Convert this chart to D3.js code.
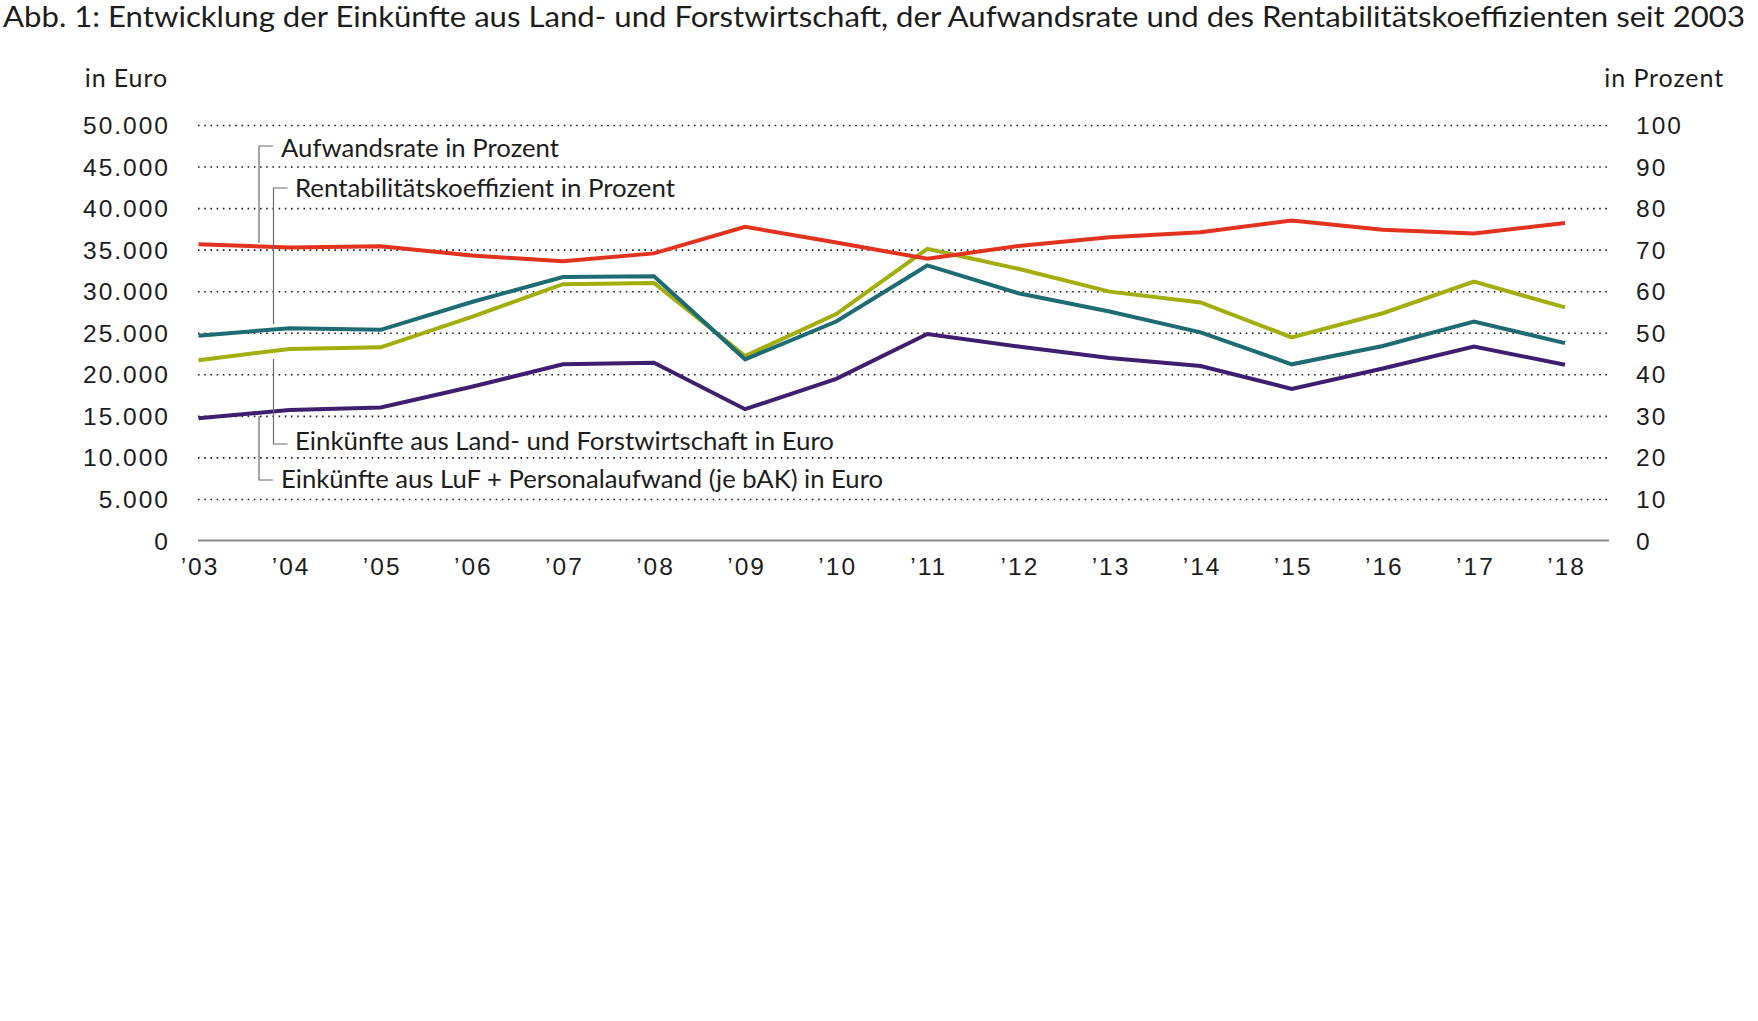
<!DOCTYPE html>
<html>
<head>
<meta charset="utf-8">
<script src="https://cdn.jsdelivr.net/npm/d3@7"></script>
<style>
  body { margin: 0; background: #fff; }
  svg { display: block; font-family: Lato, 'Open Sans', sans-serif; fill: #1d1d1b; }
  .grid line { stroke: #222; stroke-width: 1.6; stroke-dasharray: 1.6 4.6; }
  .axis text { font-size: 24.5px; fill: #1d1d1b; letter-spacing: 2px; }
  .series { fill: none; stroke-width: 4; stroke-linejoin: miter; }
  .leader { fill: none; stroke: #6b6b6b; stroke-width: 1.2; }
  .label { font-size: 25.5px; fill: #1d1d1b; }
  .unit { font-size: 25px; fill: #1d1d1b; letter-spacing: 0.9px; }
</style>
</head>
<body>
<div id="chart"></div>
<script>
const years = ['03', '04', '05', '06', '07', '08', '09', '10', '11', '12', '13', '14', '15', '16', '17', '18'];

// Prozent, rechte Achse
const aufwandsrate = [71.3, 70.5, 70.8, 68.6, 67.2, 69.1, 75.5, 71.7, 67.8, 70.9, 73.0, 74.2, 77.0, 74.8, 73.9, 76.4];
const rentabilitaet = [49.3, 51.1, 50.7, 57.4, 63.4, 63.6, 43.6, 52.7, 66.2, 59.5, 55.1, 50.1, 42.4, 46.8, 52.7, 47.5];

// Euro, linke Achse
const einkuenfteLuF = [21700, 23050, 23250, 26900, 30850, 31000, 22200, 27250, 35100, 32700, 29950, 28650, 24450, 27350, 31150, 28050];
const einkuenftePersonal = [14700, 15700, 16000, 18500, 21200, 21400, 15800, 19450, 24850, 23350, 21950, 21000, 18250, 20700, 23350, 21150];

const euroTicks = [0, 5000, 10000, 15000, 20000, 25000, 30000, 35000, 40000, 45000, 50000];
const pctTicks = [0, 10, 20, 30, 40, 50, 60, 70, 80, 90, 100];

const title = 'Abb. 1: Entwicklung der Einkünfte aus Land- und Forstwirtschaft, der Aufwandsrate und des Rentabilitätskoeffizienten seit 2003';

const width = 1758;
const height = 1021;

const plotLeft = 198;
const plotRight = 1609;

const svg = d3.select('#chart').append('svg')
    .attr('width', width)
    .attr('height', height);

svg.append('rect')
    .attr('width', width)
    .attr('height', height)
    .style('fill', '#fff');

const xScale = d3.scalePoint()
    .domain(years)
    .range([198.5, 1565]);

const yEuro = d3.scaleLinear()
    .domain([0, 50000])
    .range([540.5, 125]);

const yPct = d3.scaleLinear()
    .domain([0, 100])
    .range([540.5, 125]);

const de = d3.formatLocale({ decimal: ',', thousands: '.', grouping: [3], currency: ['', ' €'] });
const euroFormat = de.format(',');

// gridlines
svg.append('g').attr('class', 'grid')
    .attr('transform', `translate(${plotLeft},0)`)
    .call(d3.axisRight(yEuro)
        .tickValues(euroTicks.filter(d => d > 0))
        .tickSize(plotRight - plotLeft)
        .tickFormat(''))
    .call(g => g.select('.domain').remove());

// base line
svg.append('line')
    .attr('x1', plotLeft)
    .attr('x2', plotRight)
    .attr('y1', yEuro(0))
    .attr('y2', yEuro(0))
    .style('stroke', '#8a8a8a')
    .style('stroke-width', 2.2);

const leftAxis = svg.append('g').attr('class', 'axis')
    .attr('transform', 'translate(170,0)')
    .call(d3.axisLeft(yEuro)
        .tickValues(euroTicks)
        .tickSize(0)
        .tickPadding(0)
        .tickFormat(euroFormat));

const rightAxis = svg.append('g').attr('class', 'axis')
    .attr('transform', 'translate(1636,0)')
    .call(d3.axisRight(yPct)
        .tickValues(pctTicks)
        .tickSize(0)
        .tickPadding(0));

const xAxis = svg.append('g').attr('class', 'axis')
    .attr('transform', `translate(0,${yEuro(0)})`)
    .call(d3.axisBottom(xScale)
        .tickSize(0)
        .tickPadding(17)
        .tickFormat(d => '\u2019' + d));

svg.selectAll('.axis .domain').remove();
leftAxis.selectAll('text').attr('dy', '0.35em').style('font-family', 'inherit');
rightAxis.selectAll('text').attr('dy', '0.35em').style('font-family', 'inherit');
xAxis.selectAll('text').style('font-family', 'inherit').attr('dx', '1px');

// units
svg.append('text')
    .attr('class', 'unit')
    .attr('x', 168)
    .attr('y', 87)
    .style('text-anchor', 'end')
    .text('in Euro');

svg.append('text')
    .attr('class', 'unit')
    .attr('x', 1724)
    .attr('y', 87)
    .style('text-anchor', 'end')
    .text('in Prozent');

// series
const series = [
    { key: 'luf', values: einkuenfteLuF, scale: yEuro, color: '#a1ae0c' },
    { key: 'rentabilitaet', values: rentabilitaet, scale: yPct, color: '#1e6b73' },
    { key: 'personal', values: einkuenftePersonal, scale: yEuro, color: '#3e1e6e' },
    { key: 'aufwand', values: aufwandsrate, scale: yPct, color: '#e3321d' },
];

const line = s => d3.line()
    .x((d, i) => xScale(years[i]))
    .y(d => s.scale(d));

svg.append('g').attr('class', 'lines')
    .selectAll('path').data(series)
    .enter().append('path')
        .attr('class', 'series')
        .style('stroke', d => d.color)
        .attr('d', d => line(d)(d.values));

// annotations
const annotations = [
    { text: 'Aufwandsrate in Prozent', x: 259, y0: 146, y1: 243, tx: 281, ty: 157, w: 278 },
    { text: 'Rentabilitätskoeffizient in Prozent', x: 273.5, y0: 188, y1: 324, tx: 295, ty: 197, w: 380 },
    { text: 'Einkünfte aus Land- und Forstwirtschaft in Euro', x: 273.5, y0: 444, y1: 359, tx: 295, ty: 450, w: 539 },
    { text: 'Einkünfte aus LuF + Personalaufwand (je bAK) in Euro', x: 259, y0: 480, y1: 416, tx: 281, ty: 488, w: 602 },
];

const ann = svg.append('g').attr('class', 'annotations')
    .selectAll('g').data(annotations)
    .enter().append('g');

ann.append('path')
    .attr('class', 'leader')
    .attr('d', d => `M${d.x + 14},${d.y0}H${d.x}V${d.y1}`);

ann.append('text')
    .attr('class', 'label')
    .attr('x', d => d.tx)
    .attr('y', d => d.ty)
    .attr('textLength', d => d.w)
    .attr('lengthAdjust', 'spacingAndGlyphs')
    .text(d => d.text);

// title
svg.append('text')
    .attr('x', 3)
    .attr('y', 27)
    .attr('textLength', 1742)
    .attr('lengthAdjust', 'spacingAndGlyphs')
    .style('font-size', '28px')
    .text(title);
</script>
</body>
</html>
